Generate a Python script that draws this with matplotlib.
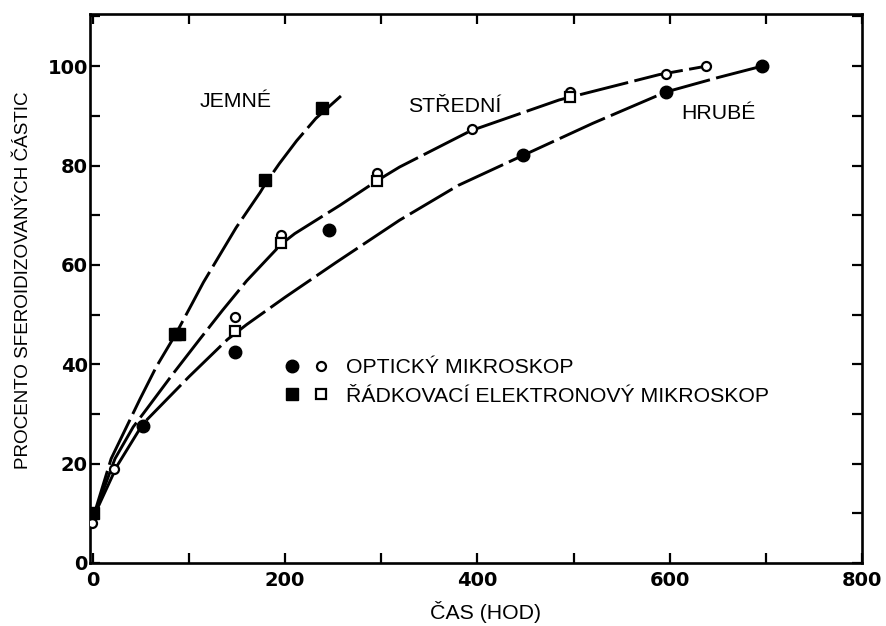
import matplotlib
matplotlib.use("Agg")
import matplotlib.pyplot as plt
from matplotlib.lines import Line2D
from matplotlib.legend_handler import HandlerTuple

# ---- data ----
# fitted curves (hand-drawn in the original)
jemne_x = [0, 19, 49, 66, 86, 104, 115, 149, 174, 180, 194, 212, 232, 258]
jemne_y = [9, 21, 33, 39.5, 46, 52.5, 56.5, 67.5, 74.6, 76.5, 80.4, 85, 89.5, 94]

stredni_x = [0, 23, 42, 56, 83, 111, 135, 160, 196, 210, 257, 296, 319, 393, 485, 589, 638]
stredni_y = [9, 21, 27.4, 31, 38, 45, 50.9, 56.8, 64.2, 66.3, 72, 77, 79.7, 87, 93.2, 98.3, 100]

hrube_x = [0, 25, 52, 100, 140, 160, 200, 253, 319, 380, 447, 520, 596, 650, 696]
hrube_y = [9, 19.5, 28, 37.5, 45, 48, 53.5, 60.5, 69, 76, 82, 88.5, 94.8, 97.7, 100]

# measured points
filled_circle_x = [52, 148, 246, 447, 596, 696]
filled_circle_y = [27.6, 42.5, 67, 82.2, 94.8, 100]
open_circle_x = [-1, 22, 148, 196, 296, 394, 496, 596, 638]
open_circle_y = [8, 19, 49.5, 66, 78.5, 87.3, 94.8, 98.4, 100]
filled_square_x = [0, 85, 90, 179, 238]
filled_square_y = [10, 46, 46, 77, 91.5]
open_square_x = [148, 196, 296, 496]
open_square_y = [46.7, 64.5, 76.8, 93.8]

curve_labels = ["JEMNÉ", "STŘEDNÍ", "HRUBÉ"]
curve_label_x = [148, 376, 651]
curve_label_y = [91.7, 90.7, 89.3]

legend_labels = ["OPTICKÝ MIKROSKOP", "ŘÁDKOVACÍ ELEKTRONOVÝ MIKROSKOP"]
xlabel = "ČAS (HOD)"
ylabel = "PROCENTO SFEROIDIZOVANÝCH ČÁSTIC"
xticks_major = [0, 200, 400, 600, 800]
yticks_major = [0, 20, 40, 60, 80, 100]

# ---- figure ----
plt.rcParams['font.family'] = ['Liberation Sans', 'DejaVu Sans']
W, H = 886, 626
fig = plt.figure(figsize=(W / 100, H / 100), dpi=100)
ax = fig.add_axes([90 / W, 63 / H, 772 / W, 549 / H])
ax.set_xlim(-3, 800)
ax.set_ylim(0, 110.5)

lw = 2.1
dash = (0, (17, 2.2))
for xs, ys in [(jemne_x, jemne_y), (stredni_x, stredni_y), (hrube_x, hrube_y)]:
    ax.plot(xs, ys, color='black', lw=lw, linestyle=dash, zorder=2,
            solid_capstyle='butt', dash_capstyle='butt', solid_joinstyle='round',
            dash_joinstyle='round')

fc = dict(marker='o', ms=9, mfc='black', mec='black', ls='none', zorder=4)
oc = dict(marker='o', ms=6.5, mfc='white', mec='black', mew=1.6, ls='none', zorder=4)
fs = dict(marker='s', ms=8.5, mfc='black', mec='black', ls='none', zorder=4)
os_ = dict(marker='s', ms=6.5, mfc='white', mec='black', mew=1.6, ls='none', zorder=4)
ax.plot(filled_circle_x, filled_circle_y, **fc)
ax.plot(open_circle_x, open_circle_y, **oc)
ax.plot(filled_square_x, filled_square_y, **fs)
ax.plot(open_square_x, open_square_y, **os_)

for t, x, y in zip(curve_labels, curve_label_x, curve_label_y):
    ax.text(x, y, t, ha='center', va='baseline', fontsize=15.3)

# legend
h1 = (Line2D([], [], **fc), Line2D([], [], **oc))
h2 = (Line2D([], [], **fs), Line2D([], [], **os_))
leg = ax.legend([h1, h2], legend_labels, handler_map={tuple: HandlerTuple(ndivide=None, pad=0.8)},
                loc='upper left', bbox_to_anchor=(286 / W, 1 - 358 / H), bbox_transform=fig.transFigure,
                frameon=False, fontsize=15.3, handlelength=1.9, handletextpad=0.9,
                labelspacing=0.45, borderpad=0, borderaxespad=0)

# axes styling
for s in ax.spines.values():
    s.set_linewidth(1.9)
    s.set_color('black')
ax.set_xticks([v for v in range(0, 801, 100)])
ax.set_xticklabels([str(v) if v in xticks_major else '' for v in range(0, 801, 100)])
ax.set_yticks([v for v in range(0, 111, 10)])
ax.set_yticklabels([str(v) if v in yticks_major else '' for v in range(0, 111, 10)])
ax.tick_params(direction='in', length=7, width=1.6, top=True, right=True,
               labelsize=14, pad=1.5)
ax.tick_params(axis='x', pad=6)
for lab in ax.get_xticklabels() + ax.get_yticklabels():
    lab.set_fontfamily('DejaVu Sans')
    lab.set_fontweight('bold')

ax.set_xlabel(xlabel, fontsize=15.3, va='center')
ax.xaxis.set_label_coords((486 - 90) / 772, (563 - 612) / 549)
ax.set_ylabel(ylabel, fontsize=13.6, va='center')
ax.yaxis.set_label_coords((24 - 90) / 772, (563 - 280) / 549)

fig.savefig('out.png', dpi=100)
